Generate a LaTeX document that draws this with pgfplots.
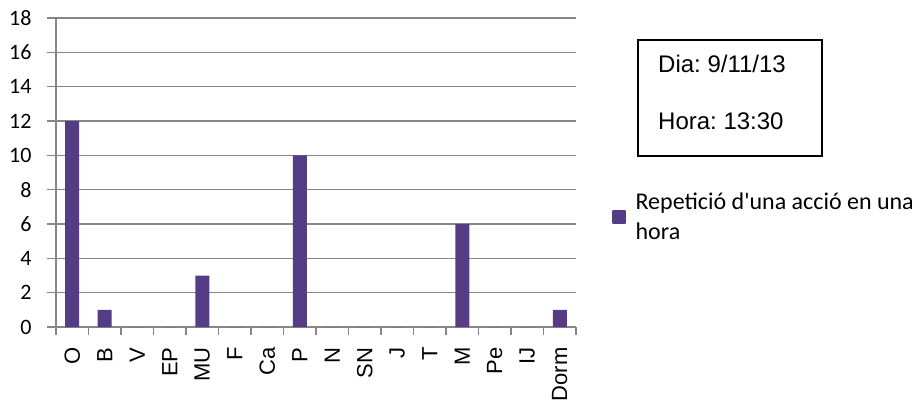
\documentclass[border=0pt]{standalone}
\usepackage{fontspec}
\setmainfont{Liberation Sans}
\newfontfamily\calibri{Carlito}
\usepackage{pgfplots}
\pgfplotsset{compat=1.18}

\definecolor{gridgray}{RGB}{134,134,134}
\definecolor{bardark}{RGB}{86,60,132}
\definecolor{barmid}{RGB}{122,92,180}

\begin{document}
\frenchspacing
\begin{tikzpicture}[x=1pt,y=1pt]
\path[use as bounding box] (0,0) rectangle (921,405);
\begin{axis}[
  at={(56pt,78pt)}, anchor=south west,
  scale only axis, width=520pt, height=309pt,
  ybar, bar width=14pt,
  xmin=-0.5, xmax=15.5, ymin=0, ymax=18,
  xtick={0,1,...,15},
  xticklabels={O,B,V,EP,MU,F,Ca,P,N,SN,J,T,M,Pe,IJ,Dorm},
  minor xtick={-0.5,0.5,...,15.5},
  major x tick style={draw=none},
  minor tick length=8pt,
  ytick={0,2,...,18},
  major tick length=9pt,
  tick align=outside,
  tick style={gridgray, line width=1.2pt},
  ymajorgrids,
  major grid style={gridgray, line width=1.2pt},
  axis x line*=bottom, axis y line*=left,
  axis line style={gridgray, line width=1.3pt, -},
  /pgf/number format/assume math mode=true,
  yticklabel style={font=\calibri\fontsize{22}{22}\selectfont, xshift=-12pt},
  xticklabel style={font=\fontsize{22}{22}\selectfont, rotate=90, anchor=east, xshift=-8pt},
  legend style={at={(1.07,0.44)}, anchor=north west, draw=none, fill=none,
    font=\calibri\fontsize{24}{30}\selectfont, inner sep=0pt,
    cells={align=left}},
  legend cell align=left,
  legend image code/.code={\path[#1] (-2pt,-6pt) rectangle (11pt,7pt);},
]
\addplot[draw=none, left color=bardark, middle color=barmid, right color=bardark]
  coordinates {(0,12) (1,1) (2,0) (3,0) (4,3) (5,0) (6,0) (7,10) (8,0) (9,0)
               (10,0) (11,0) (12,6) (13,0) (14,0) (15,1)};
\addlegendentry{\hspace{8pt}Repetició d'una acció en una\\\hspace{8pt}hora}
\end{axis}
\draw[line width=1.3pt] (638,365) rectangle (822,249);
\node[anchor=base west, inner sep=0pt, font=\fontsize{24}{24}\selectfont] at (658,332) {Dia: 9/11/13};
\node[anchor=base west, inner sep=0pt, font=\fontsize{24}{24}\selectfont] at (658,275) {Hora: 13:30};
\end{tikzpicture}
\end{document}
